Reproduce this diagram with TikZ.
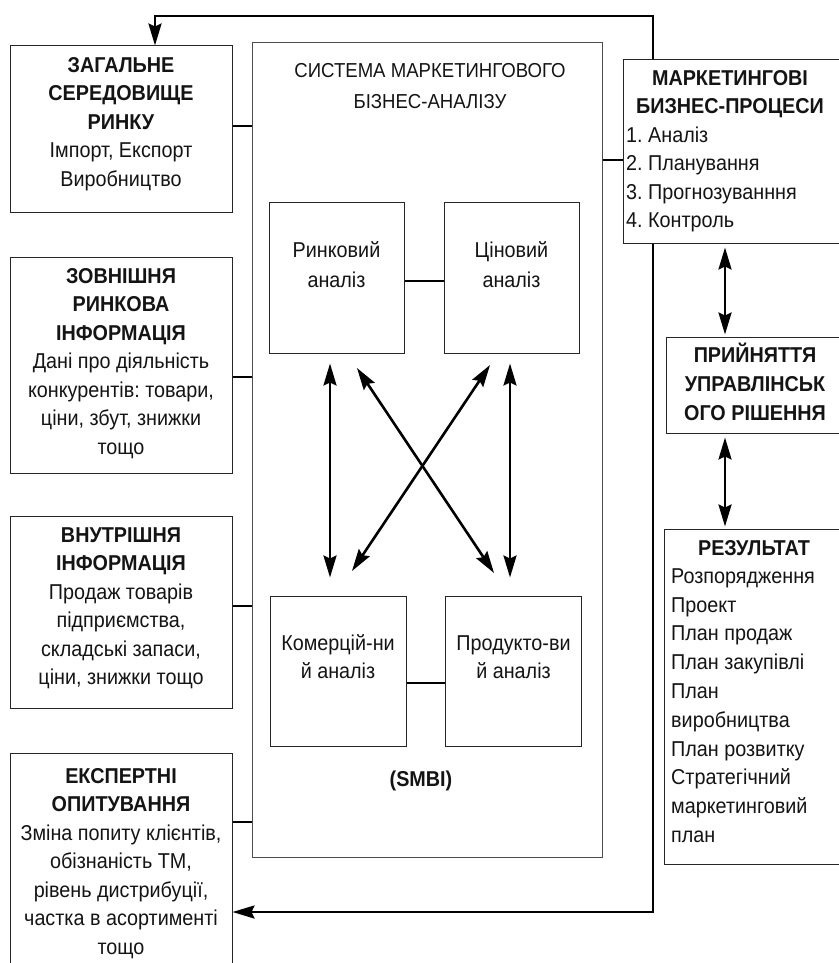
\documentclass[tikz,border=0pt]{standalone}
\usepackage{fontspec}
\setmainfont{Liberation Sans}[FakeStretch=0.92]
\usetikzlibrary{arrows.meta}
\newcommand{\fsz}{\fontsize{21.5pt}{28.5pt}\selectfont}
\newcommand{\lead}{\rule{0pt}{22pt}}
\frenchspacing
\begin{document}
\frenchspacing
\begin{tikzpicture}[x=1pt,y=-1pt,
  box/.style={draw=black!85, line width=1pt, inner sep=0pt, fill=white},
  txt/.style={inner sep=0pt, align=center, font=\fsz, text=black!92},
  conn/.style={line width=2.6pt},
  darr/.style={line width=2.6pt, {Stealth[length=22pt,width=13pt,inset=3pt]}-{Stealth[length=22pt,width=13pt,inset=3pt]}},
  sarr/.style={line width=2.6pt, -{Stealth[length=22pt,width=13pt,inset=3pt]}},
]
\useasboundingbox (0,0) rectangle (838,963);

% left boxes
\node[box, minimum width=222pt, minimum height=166pt] (gen) at (121,129) {};
\node[txt, anchor=north] (genT) at (121,50) {\lead\textbf{ЗАГАЛЬНЕ}\\\textbf{СЕРЕДОВИЩЕ}\\\textbf{РИНКУ}\\Імпорт, Експорт\\Виробництво};

\node[box, minimum width=222pt, minimum height=216pt] (ext) at (121,365) {};
\node[txt, anchor=north] (extT) at (121,261) {\lead\textbf{ЗОВНІШНЯ}\\\textbf{РИНКОВА}\\\textbf{ІНФОРМАЦІЯ}\\Дані про діяльність\\конкурентів: товари,\\ціни, збут, знижки\\тощо};

\node[box, minimum width=222pt, minimum height=192pt] (int) at (121,612) {};
\node[txt, anchor=north] (intT) at (121,520) {\lead\textbf{ВНУТРІШНЯ}\\\textbf{ІНФОРМАЦІЯ}\\Продаж товарів\\підприємства,\\складські запаси,\\ціни, знижки тощо};

\node[box, minimum width=222pt, minimum height=222pt] (exp) at (121,864) {};
\node[txt, anchor=north] (expT) at (121,761) {\lead\textbf{ЕКСПЕРТНІ}\\\textbf{ОПИТУВАННЯ}\\Зміна попиту клієнтів,\\обізнаність ТМ,\\рівень дистрибуції,\\частка в асортименті\\тощо};

% central system
\node[box, draw=black!70, minimum width=350pt, minimum height=814pt] (sys) at (427,450) {};
\node[txt, anchor=north, font=\fontsize{20.2pt}{31pt}\selectfont] (sysT) at (430,55) {\lead СИСТЕМА МАРКЕТИНГОВОГО\\БІЗНЕС-АНАЛІЗУ};

\node[box, minimum width=135pt, minimum height=151pt] (mkt) at (336.5,277.5) {};
\node[txt, anchor=north, font=\fontsize{21.5pt}{30pt}\selectfont] (mktT) at (336.5,235) {\lead Ринковий\\аналіз};
\node[box, minimum width=135pt, minimum height=151pt] (price) at (511.5,277.5) {};
\node[txt, anchor=north, font=\fontsize{21.5pt}{30pt}\selectfont] (priceT) at (511.5,235) {\lead Ціновий\\аналіз};
\node[box, minimum width=136pt, minimum height=150pt] (com) at (338,671) {};
\node[txt, anchor=north] (comT) at (338,628) {\lead Комерцій-ни\\й аналіз};
\node[box, minimum width=136pt, minimum height=150pt] (prod) at (513.5,671) {};
\node[txt, anchor=north] (prodT) at (513.5,628) {\lead Продукто-ви\\й аналіз};

\node[txt, anchor=base] (smbi) at (421,786) {\textbf{(SMBI)}};

% right boxes
\node[box, minimum width=222pt, minimum height=183pt] (proc) at (734,151.5) {};
\node[txt, anchor=north] (procT) at (730,63) {\lead\textbf{МАРКЕТИНГОВІ}\\\textbf{БИЗНЕС-ПРОЦЕСИ}};
\node[txt, anchor=north west, align=left] (procL) at (626,120) {\lead 1. Аналіз\\2. Планування\\3. Прогнозуванння\\4. Контроль};

\node[box, minimum width=179pt, minimum height=96pt] (dec) at (755.5,385) {};
\node[txt, anchor=north, font=\fontsize{21.5pt}{29pt}\selectfont] (decT) at (755,340) {\lead\textbf{ПРИЙНЯТТЯ}\\\textbf{УПРАВЛІНСЬК}\\\textbf{ОГО РІШЕННЯ}};

\node[box, minimum width=181pt, minimum height=335pt] (res) at (754.5,696.5) {};
\node[txt, anchor=north] (resT) at (754,533) {\lead\textbf{РЕЗУЛЬТАТ}};
\node[txt, anchor=north west, align=left, font=\fontsize{21.5pt}{28.8pt}\selectfont] (resL) at (671,561) {\lead Розпорядження\\Проект\\План продаж\\План закупівлі\\План\\виробництва\\План розвитку\\Стратегічний\\маркетинговий\\план};

% connectors from left boxes
\draw[conn] (gen.east |- 0,126) -- (sys.west |- 0,126);
\draw[conn] (ext.east |- 0,377) -- (sys.west |- 0,377);
\draw[conn] (int.east |- 0,606) -- (sys.west |- 0,606);
\draw[conn] (exp.east |- 0,822) -- (sys.west |- 0,822);
\draw[conn] (sys.east |- 0,160) -- (proc.west |- 0,160);

% inner connectors
\draw[conn] (mkt.east |- 0,281) -- (price.west |- 0,281);
\draw[conn] (com.east |- 0,683) -- (prod.west |- 0,683);

% inner arrows
\draw[darr, shorten <=10pt, shorten >=18pt] (mkt.south -| 330,0) -- (com.north -| 330,0);
\draw[darr, shorten <=10pt, shorten >=18pt] (price.south -| 510,0) -- (prod.north -| 510,0);
\coordinate (d1a) at (357,368);
\coordinate (d1b) at (494,573);
\coordinate (d2a) at (490,365);
\coordinate (d2b) at (352,571);
\draw[darr] (d1a) -- (d1b);
\draw[darr] (d2a) -- (d2b);

% right arrows
\draw[darr, shorten <=4pt, shorten >=2pt] (proc.south -| 725,0) -- (dec.north -| 725,0);
\draw[darr, shorten <=4pt, shorten >=2pt] (dec.south -| 725,0) -- (res.north -| 725,0);

% feedback loop
\draw[sarr] (proc.north -| 653,0) -- (653,16) -| (gen.north -| 155,0);
\draw[sarr] (proc.south -| 653,0) |- (exp.east |- 0,912);
\end{tikzpicture}
\end{document}
